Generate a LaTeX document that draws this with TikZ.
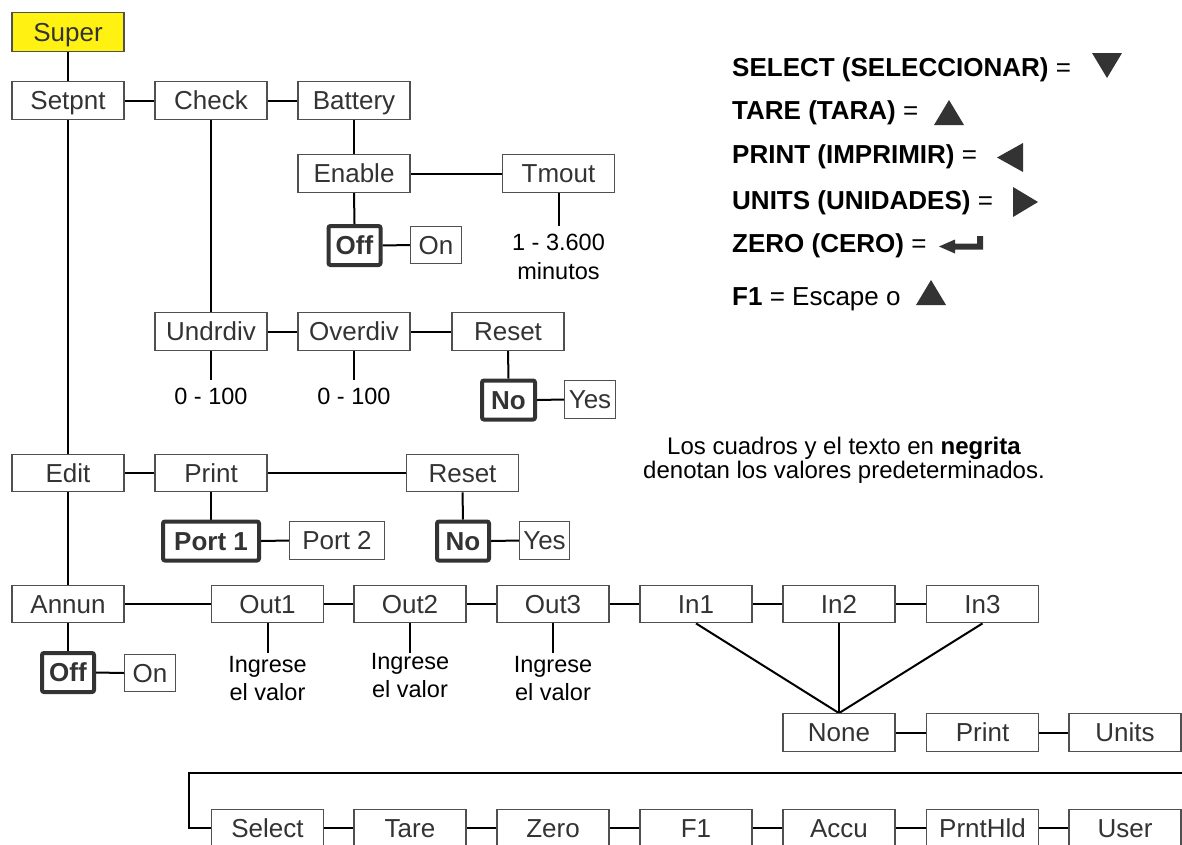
\documentclass[tikz,border=0pt]{standalone}
\usepackage{fontspec}
\setmainfont{Liberation Sans}
\usetikzlibrary{backgrounds}
\definecolor{boxc}{HTML}{505050}
\definecolor{txtc}{HTML}{333333}
\definecolor{defc}{HTML}{333333}
\definecolor{superc}{HTML}{FFF212}
\definecolor{symc}{HTML}{333333}
\begin{document}
\begin{tikzpicture}[x=1pt,y=-1pt,
  box/.style={draw=boxc, line width=1.3pt, fill=white, text=txtc,
    minimum width=112pt, minimum height=37.5pt, inner sep=0pt,
    font=\fontsize{26}{30}\selectfont, text height=18.6pt, text depth=0pt},
  sbox/.style={box, minimum width=50.5pt},
  defbox/.style={box, draw=defc, line width=4pt, rounded corners=2pt,
    font=\bfseries\fontsize{26}{30}\selectfont, minimum height=39pt},
  conn/.style={draw=black, line width=2pt},
  lab/.style={inner xsep=0pt, font=\fontsize{23.5}{28.5}\selectfont, align=center, anchor=north},
  legtext/.style={inner sep=0pt, anchor=base west, font=\fontsize{26}{30}\selectfont},
  sym/.style={fill=symc}]
\useasboundingbox (0,0) rectangle (1182,844);

% top section
\node[box, fill=superc, minimum height=38.5pt] (super) at (68,32) {Super};
\node[box] (setpnt) at (68,100.5) {Setpnt};
\node[box] (check) at (211,100.5) {Check};
\node[box] (battery) at (354,100.5) {Battery};
\node[box] (enable) at (354,173.5) {Enable};
\node[box] (tmout) at (558.5,173.5) {Tmout};
\node[defbox, minimum width=52pt] (off1) at (354.5,245.5) {Off};
\node[sbox] (on1) at (436,245) {On};
\node[lab, inner ysep=8pt] (tmlab) at (558.5,226) {1 - 3.600\\minutos};

\node[box] (undrdiv) at (211,331.5) {Undrdiv};
\node[box] (overdiv) at (354,331.5) {Overdiv};
\node[box] (reset1) at (508,331.5) {Reset};
\node[lab, inner ysep=8pt] (ua) at (211,380) {0 - 100};
\node[lab, inner ysep=8pt] (ob) at (354,380) {0 - 100};
\node[defbox, minimum width=53pt] (no1) at (508.5,400) {No};
\node[sbox] (yes1) at (590,399.5) {Yes};

% edit section
\node[box] (edit) at (68,473) {Edit};
\node[box] (print1) at (211,473) {Print};
\node[box] (reset2) at (462.5,473) {Reset};
\node[defbox, minimum width=96pt] (port1) at (211,541) {Port 1};
\node[box, minimum width=94.5pt] (port2) at (337,540.5) {Port 2};
\node[defbox, minimum width=52pt] (no2) at (463,541) {No};
\node[sbox, minimum width=49.5pt] (yes2) at (544.5,540.5) {Yes};

% annun section
\node[box] (annun) at (68,604) {Annun};
\node[box] (out1) at (267.5,604) {Out1};
\node[box] (out2) at (410,604) {Out2};
\node[box] (out3) at (553,604) {Out3};
\node[box] (in1) at (696,604) {In1};
\node[box] (in2) at (839,604) {In2};
\node[box] (in3) at (982.5,604) {In3};
\node[defbox, minimum width=52pt] (off2) at (68,672.5) {Off};
\node[sbox] (on2) at (150,673) {On};
\node[lab, inner ysep=3pt] (lo1) at (267.5,653) {Ingrese\\el valor};
\node[lab, inner ysep=0pt] (lo2) at (410,653) {Ingrese\\el valor};
\node[lab, inner ysep=3pt] (lo3) at (553,653) {Ingrese\\el valor};
\node[box] (none) at (839,732.5) {None};
\node[box] (print2) at (982.5,732.5) {Print};
\node[box] (units) at (1125,732.5) {Units};

% bottom row
\coordinate (rend) at (1185,773);
\coordinate (lcorner) at (189,773);
\node[box] (select) at (267.5,828) {Select};
\node[box] (tare) at (410,828) {Tare};
\node[box] (zero) at (553,828) {Zero};
\node[box] (f1) at (696,828) {F1};
\node[box] (accu) at (839,828) {Accu};
\node[box] (prnthld) at (982.5,828) {PrntHld};
\node[box] (user) at (1125,828) {User};

% connectors
\begin{scope}[on background layer]
\draw[conn] (super.south) -- (setpnt.north);
\draw[conn] (setpnt.east) -- (check.west);
\draw[conn] (check.east) -- (battery.west);
\draw[conn] (battery.south) -- (enable.north);
\draw[conn] (enable.east) -- (tmout.west);
\draw[conn] (enable.south) -- (off1.north);
\draw[conn] (off1.east) -- (on1.west);
\draw[conn] (tmout.south) -- (tmlab.north);
\draw[conn] (check.south) -- (undrdiv.north);
\draw[conn] (undrdiv.east) -- (overdiv.west);
\draw[conn] (overdiv.east) -- (reset1.west);
\draw[conn] (undrdiv.south) -- (ua.north);
\draw[conn] (overdiv.south) -- (ob.north);
\draw[conn] (reset1.south) -- (no1.north);
\draw[conn] (no1.east) -- (yes1.west);
\draw[conn] (setpnt.south) -- (edit.north);
\draw[conn] (edit.east) -- (print1.west);
\draw[conn] (print1.east) -- (reset2.west);
\draw[conn] (print1.south) -- (port1.north);
\draw[conn] (port1.east) -- (port2.west);
\draw[conn] (reset2.south) -- (no2.north);
\draw[conn] (no2.east) -- (yes2.west);
\draw[conn] (edit.south) -- (annun.north);
\draw[conn] (annun.east) -- (out1.west);
\draw[conn] (out1.east) -- (out2.west);
\draw[conn] (out2.east) -- (out3.west);
\draw[conn] (out3.east) -- (in1.west);
\draw[conn] (in1.east) -- (in2.west);
\draw[conn] (in2.east) -- (in3.west);
\draw[conn] (annun.south) -- (off2.north);
\draw[conn] (off2.east) -- (on2.west);
\draw[conn] (out1.south) -- (lo1.north);
\draw[conn] (out2.south) -- (lo2.north);
\draw[conn] (out3.south) -- (lo3.north);
\draw[conn] (in1.south) -- (none.north);
\draw[conn] (in2.south) -- (none.north);
\draw[conn] (in3.south) -- (none.north);
\draw[conn] (none.east) -- (print2.west);
\draw[conn] (print2.east) -- (units.west);
\draw[conn] (rend) -- (lcorner) |- (select.west);
\draw[conn] (select.east) -- (tare.west);
\draw[conn] (tare.east) -- (zero.west);
\draw[conn] (zero.east) -- (f1.west);
\draw[conn] (f1.east) -- (accu.west);
\draw[conn] (accu.east) -- (prnthld.west);
\draw[conn] (prnthld.east) -- (user.west);
\end{scope}

% legend
\node[legtext] (lsel) at (732,76) {\textbf{SELECT (SELECCIONAR)} =};
\node[legtext] (ltare) at (732,119) {\textbf{TARE (TARA)} =};
\node[legtext] (lprint) at (732,163) {\textbf{PRINT (IMPRIMIR)} =};
\node[legtext] (lunits) at (732,209) {\textbf{UNITS (UNIDADES)} =};
\node[legtext] (lzero) at (732,252) {\textbf{ZERO (CERO)} =};
\node[legtext] (lf1) at (732,305) {\textbf{F1} = Escape o};
\fill[sym] (1092,53) -- (1122,53) -- (1107,78) -- cycle;
\fill[sym] (934,125) -- (964,125) -- (949,100) -- cycle;
\fill[sym] (1023,143) -- (1023,172) -- (997,157.5) -- cycle;
\fill[sym] (1013,187) -- (1013,217) -- (1038,202) -- cycle;
\fill[sym] (983,236) -- (983,249.5) -- (955,249.5) -- (955,253.5) -- (939,246.5)
  -- (955,239.5) -- (955,243.5) -- (977,243.5) -- (977,236) -- cycle;
\fill[sym] (916,305) -- (946,305) -- (931,280) -- cycle;

% note
\node[inner sep=0pt, anchor=north, align=center, font=\fontsize{24}{22}\selectfont] (note)
  at (844,437) {Los cuadros y el texto en \textbf{negrita}\\denotan los valores predeterminados.};
\end{tikzpicture}
\end{document}
